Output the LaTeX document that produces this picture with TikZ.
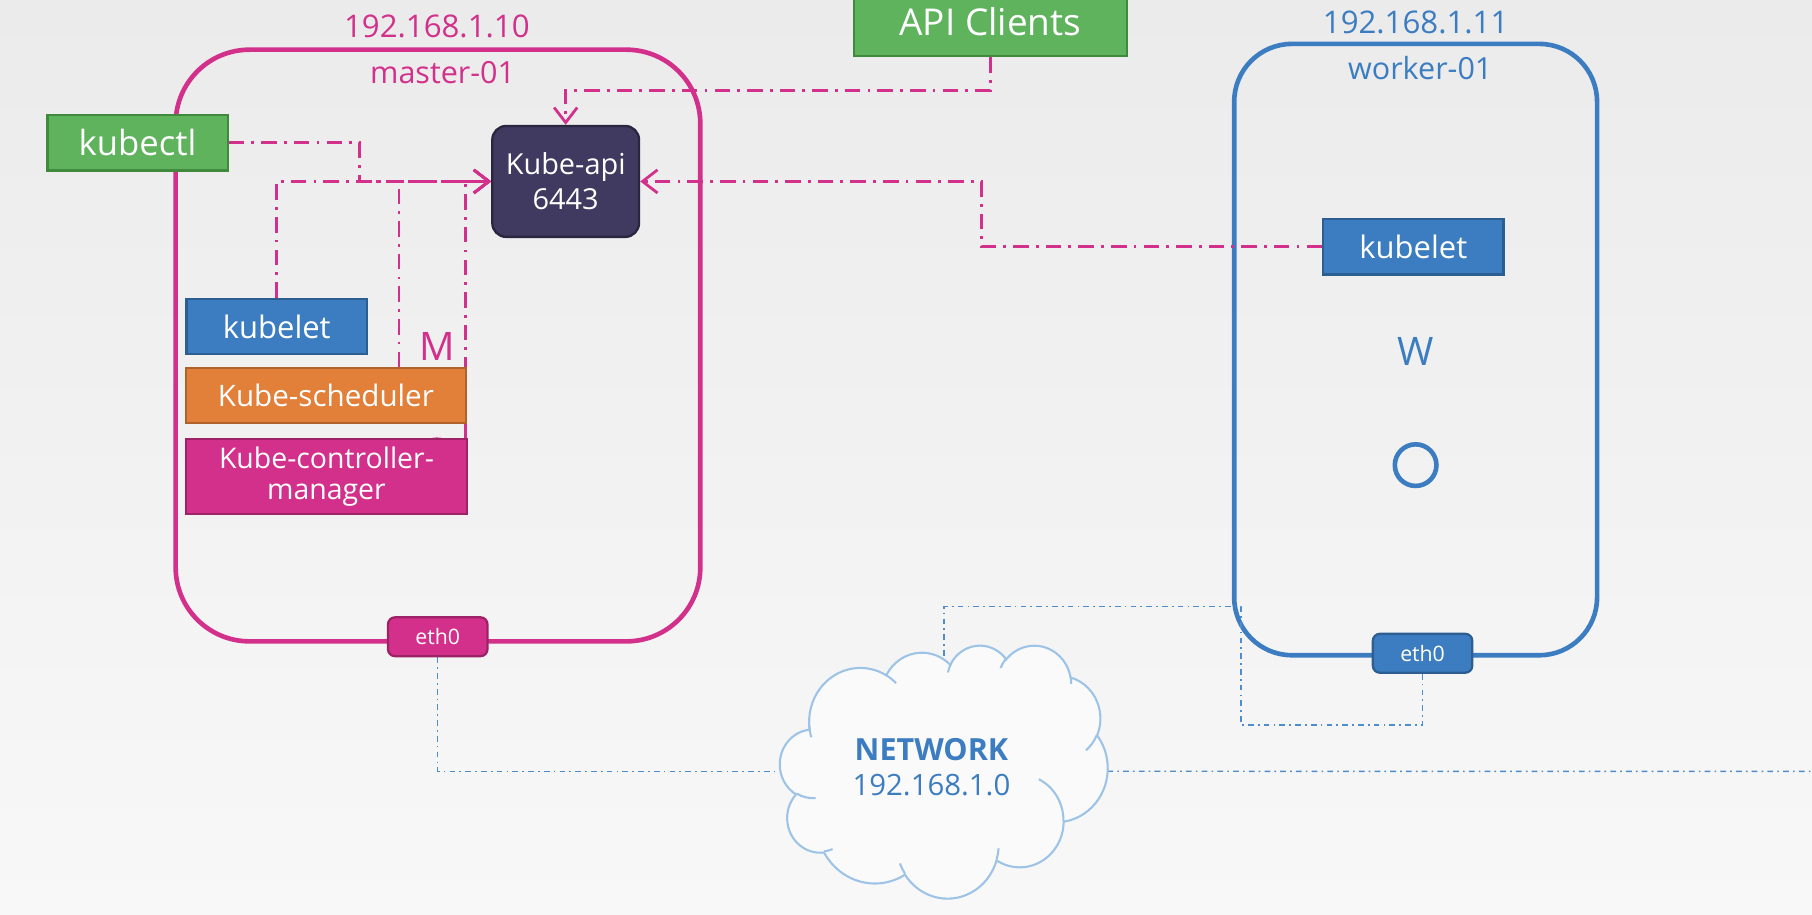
\documentclass[tikz,border=0pt]{standalone}
\usepackage{fontspec}
\setmainfont{Open Sans}
\usetikzlibrary{arrows.meta}

\definecolor{mag}{HTML}{D2308A}
\definecolor{magdark}{HTML}{9E2266}
\definecolor{kblue}{HTML}{3C7DC1}
\definecolor{kbluedark}{HTML}{2D5E91}
\definecolor{kgreen}{HTML}{5EB35C}
\definecolor{kgreendark}{HTML}{3F8A3D}
\definecolor{korange}{HTML}{E27F39}
\definecolor{korangedark}{HTML}{B0622C}
\definecolor{kdark}{HTML}{403A60}
\definecolor{kdarkline}{HTML}{2A2640}
\definecolor{cloudblue}{HTML}{9DC3E6}
\definecolor{cloudfill}{HTML}{FAFAFA}
\definecolor{netline}{HTML}{4D8DCD}
\definecolor{bgtop}{HTML}{EBEBEB}
\definecolor{bgbot}{HTML}{F8F8F8}

\pgfdeclarelayer{bg}
\pgfsetlayers{bg,main}

% visual ellipse angle -> parametric angle (keeps the same turn)
\tikzset{
  declare function={visang(\ra,\rb,\ang)=\ang+mod(atan2(\ra*sin(\ang),\rb*cos(\ang))-\ang+540,360)-180;},
  hostbox/.style={line width=2pt, inner sep=0pt},
  comp/.style={draw, line width=1pt, text=white, inner sep=0pt, align=center},
  nic/.style={comp, rounded corners=3pt, minimum width=43pt, minimum height=16.8pt,
              font=\fontsize{9.2}{11}\selectfont},
  lbl/.style={inner sep=0pt, anchor=base},
  tag/.style={inner sep=0pt, font=\fontsize{17}{20}\selectfont},
  ring/.style={circle, line width=2pt, minimum size=18pt, inner sep=0pt},
  apilink/.style={draw=mag, line width=1.2pt, dash pattern=on 6.7pt off 3.1pt on 1.2pt off 3.1pt},
  netlink/.style={draw=netline, line width=0.6pt, dash pattern=on 2.5pt off 1.8pt on 0.7pt off 1.8pt},
  toapi/.style={-{Straight Barb[length=6.5pt,width=10pt]}},
  cloudedge/.style={draw=cloudblue, line width=0.9pt},
}

% one arc of the cloud outline: radii and angles in the 43200-unit cloud frame
\newcommand\cloudarc[4]{arc[start angle={-visang(#1,#2,#3)}, end angle={-visang(#1,#2,#3+#4)},
  x radius={#1*0.00328704pt}, y radius={#2*0.00253472pt}]}

\begin{document}
\begin{tikzpicture}[x=0.5pt, y=-0.5pt]
\useasboundingbox (0,0) rectangle (1568,791);

% ---------- components ----------
\node[comp, fill=kgreen, draw=kgreendark, minimum width=78pt, minimum height=24pt,
      font=\fontsize{15}{18}\selectfont] (kubectl) at (119,123.6) {kubectl};
\node[comp, fill=kgreen, draw=kgreendark, minimum width=118pt, minimum height=29.5pt,
      font=\fontsize{16}{19}\selectfont] (apic) at (857,19) {API Clients};
\node[comp, fill=kdark, draw=kdarkline, rounded corners=6pt, minimum width=63.5pt, minimum height=48pt,
      font=\fontsize{12.5}{15}\selectfont] (kapi) at (489.5,157) {Kube-api\\6443};
\node[comp, fill=kblue, draw=kbluedark, minimum width=78pt, minimum height=24pt,
      font=\fontsize{13.4}{16}\selectfont] (mkubelet) at (239.5,282.6) {kubelet};
\node[comp, fill=korange, draw=korangedark, minimum width=121pt, minimum height=23.8pt,
      font=\fontsize{12.8}{15}\selectfont] (sched) at (282,342.5) {Kube-scheduler};
\node[comp, fill=mag, draw=magdark, minimum width=121.5pt, minimum height=32.5pt,
      font=\fontsize{12.3}{13.6}\selectfont] (ctrl) at (282.5,412.5) {Kube-controller-\\manager};
\node[comp, fill=kblue, draw=kbluedark, minimum width=78pt, minimum height=24pt,
      font=\fontsize{13.4}{16}\selectfont] (wkubelet) at (1223,213.5) {kubelet};
\node[nic, fill=mag, draw=magdark] (meth) at (378.8,551) {eth0};
\node[nic, fill=kblue, draw=kbluedark] (weth) at (1231,565.3) {eth0};

% ---------- host labels ----------
\node[lbl, text=mag, font=\fontsize{13.5}{16}\selectfont] (mip) at (378,32.3) {192.168.1.10};
\node[lbl, text=mag, font=\fontsize{13.2}{16}\selectfont] (mname) at (383,72) {master-01};
\node[lbl, text=kblue, font=\fontsize{13.5}{16}\selectfont] (wip) at (1225,28.9) {192.168.1.11};
\node[lbl, text=kblue, font=\fontsize{13.2}{16}\selectfont] (wname) at (1229,69) {worker-01};
\node[tag, text=mag] (mtag) at (378,300) {M};
\node[tag, text=kblue] (wtag) at (1225,304) {W};

% ---------- network cloud ----------
\begin{scope}[shift={(675,558)}, x=0.00328704pt, y=-0.00253472pt]
  \filldraw[cloudedge, fill=cloudfill] (3900,14370)
    \cloudarc{6753}{9190}{-190.48748}{123.78053}
    \cloudarc{5333}{7267}{-144.10238}{89.94523}
    \cloudarc{4365}{5945}{-145.80792}{99.72302}
    \cloudarc{4857}{6595}{-130.98607}{117.24173}
    \cloudarc{5333}{7273}{-78.70888}{109.02692}
    \cloudarc{6775}{9220}{-46.26725}{130.26900}
    \cloudarc{5785}{7867}{0.62502}{114.03333}
    \cloudarc{6752}{9215}{22.45160}{115.17255}
    \cloudarc{7720}{10543}{66.24263}{75.71102}
    \cloudarc{4360}{5918}{-274.94208}{146.73557}
    \cloudarc{4345}{5945}{-246.82850}{152.51885}
    -- cycle;
  \draw[cloudedge]
    (4693,26177) \cloudarc{4345}{5945}{86.7420}{26.4295}
    (6928,34899) \cloudarc{4360}{5918}{73.6105}{11.4475}
    (16478,39090) \cloudarc{6752}{9215}{137.6242}{14.0811}
    (28827,34751) \cloudarc{6752}{9215}{6.4533}{15.9984}
    (34129,22954) \cloudarc{5785}{7867}{-70.2924}{70.9174}
    (41798,15354) \cloudarc{5333}{7273}{30.3180}{27.7515}
    (38324,5426) \cloudarc{4857}{6595}{-13.7443}{14.8622}
    (29078,3952) \cloudarc{4857}{6595}{-149.1815}{18.1970}
    (22141,4720) \cloudarc{4365}{5945}{-163.4943}{17.6926}
    (14000,5192) \cloudarc{6753}{9190}{-66.7070}{12.3194}
    (4127,15789) \cloudarc{6753}{9190}{156.6201}{17.6151};
  \coordinate (netW) at (134,21600);
  \coordinate (netE) at (43164,21600);
  \coordinate (netN) at (21600,2470);
\end{scope}
\node[lbl, text=kblue, font=\bfseries\fontsize{13.2}{16}\selectfont] (netname) at (806,657.7) {NETWORK};
\node[lbl, text=kblue, font=\fontsize{12.7}{16}\selectfont] (netaddr) at (806,688.8) {192.168.1.0};

% ---------- hosts, rings and links beneath the components ----------
\begin{pgfonlayer}{bg}
  \fill[top color=bgtop, bottom color=bgbot] (0,0) rectangle (1568,791);

  \node[hostbox, draw=mag, rounded corners=32pt, minimum width=227pt, minimum height=256pt]
    (master) at (379,299) {};
  \node[hostbox, draw=kblue, rounded corners=25pt, minimum width=157pt, minimum height=264.5pt]
    (worker) at (1225,302.5) {};

  \node[ring, draw=mag] (mring) at (378,398.5) {};
  \node[ring, draw=kblue] (wring) at (1225,402.5) {};

  \coordinate (kjoin) at (311,157);
  \coordinate (schedtap) at (345.3,157);
  \coordinate (ctrltap) at (402.5,157);
  \coordinate (apibend) at (489.5,78);
  \coordinate (wkbend) at (849,157);
  \coordinate (wnicA) at (1074,627.4);
  \coordinate (wnicB) at (1074,525);
  \coordinate (edgeE) at (1568,667.5);

  % control-plane links to the API server
  \draw[apilink, toapi] (mkubelet.north) |- (kapi.west);
  \draw[apilink, toapi] (kubectl.east) -| (kjoin) -- (kapi.west);
  \draw[apilink, toapi] (schedtap |- sched.north) -- (schedtap) -- (kapi.west);
  \draw[apilink, toapi] (ctrltap |- ctrl.north) -- (ctrltap) -- (kapi.west);
  \draw[apilink, toapi] (apic.south) |- (apibend) -- (kapi.north);
  \draw[apilink, toapi] (wkubelet.west) -| (wkbend) -- (kapi.east);

  % network cabling
  \draw[netlink] (meth.south) |- (netW);
  \draw[netlink] (netE) -- (edgeE);
  \draw[netlink] (weth.south) |- (wnicA) -- (wnicB) -| (netN);
\end{pgfonlayer}
\end{tikzpicture}
\end{document}
